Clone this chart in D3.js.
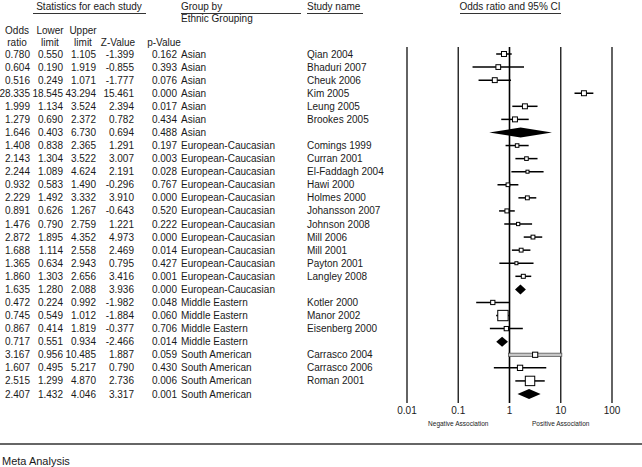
<!DOCTYPE html>
<html>
<head>
<meta charset="utf-8">
<script src="https://cdn.jsdelivr.net/npm/d3@7"></script>
<style>
  html, body { margin: 0; padding: 0; background: #fff; }
  svg { display: block; font-family: "Liberation Sans", Arial, sans-serif; }
</style>
</head>
<body>
<svg id="chart" width="642" height="467"></svg>
<script>
// ---------------- data ----------------
const studyNames = ["Qian 2004","Bhaduri 2007","Cheuk 2006","Kim 2005","Leung 2005","Brookes 2005","",
  "Comings 1999","Curran 2001","El-Faddagh 2004","Hawi 2000","Holmes 2000","Johansson 2007","Johnson 2008","Mill 2006","Mill 2001","Payton 2001","Langley 2008","",
  "Kotler 2000","Manor 2002","Eisenberg 2000","",
  "Carrasco 2004","Carrasco 2006","Roman 2001",""];
const groups = ["Asian","Asian","Asian","Asian","Asian","Asian","Asian",
  "European-Caucasian","European-Caucasian","European-Caucasian","European-Caucasian","European-Caucasian","European-Caucasian","European-Caucasian","European-Caucasian","European-Caucasian","European-Caucasian","European-Caucasian","European-Caucasian",
  "Middle Eastern","Middle Eastern","Middle Eastern","Middle Eastern",
  "South American","South American","South American","South American"];
const oddsRatio = [0.780,0.604,0.516,28.335,1.999,1.279,1.646,1.408,2.143,2.244,0.932,2.229,0.891,1.476,2.872,1.688,1.365,1.860,1.635,0.472,0.745,0.867,0.717,3.167,1.607,2.515,2.407];
const lowerLimit = [0.550,0.190,0.249,18.545,1.134,0.690,0.403,0.838,1.304,1.089,0.583,1.492,0.626,0.790,1.895,1.114,0.634,1.303,1.280,0.224,0.549,0.414,0.551,0.956,0.495,1.299,1.432];
const upperLimit = [1.105,1.919,1.071,43.294,3.524,2.372,6.730,2.365,3.522,4.624,1.490,3.332,1.267,2.759,4.352,2.558,2.943,2.656,2.088,0.992,1.012,1.819,0.934,10.485,5.217,4.870,4.046];
const zValue = [-1.399,-0.855,-1.777,15.461,2.394,0.782,0.694,1.291,3.007,2.191,-0.296,3.910,-0.643,1.221,4.973,2.469,0.795,3.416,3.936,-1.982,-1.884,-0.377,-2.466,1.887,0.790,2.736,3.317];
const pValue = [0.162,0.393,0.076,0.000,0.017,0.434,0.488,0.197,0.003,0.028,0.767,0.000,0.520,0.222,0.000,0.014,0.427,0.001,0.000,0.048,0.060,0.706,0.014,0.059,0.430,0.006,0.001];
const axisTicks = [0.01, 0.1, 1, 10, 100];
const axisTickLabels = ["0.01", "0.1", "1", "10", "100"];

// ---------------- build rows ----------------
const rows = studyNames.map((name, i) => ({
  name, group: groups[i], or: oddsRatio[i], lo: lowerLimit[i], hi: upperLimit[i],
  z: zValue[i], p: pValue[i], summary: name === "", idx: i
}));

// random-effects (DerSimonian-Laird) relative weights within each subgroup -> square size
d3.group(rows.filter(r => !r.summary), r => r.group).forEach(list => {
  list.forEach(r => {
    r.y = Math.log(r.or);
    const se = (Math.log(r.hi) - Math.log(r.lo)) / 3.92;
    r.v = se * se; r.w = 1 / r.v;
  });
  const sw = d3.sum(list, r => r.w);
  const mean = d3.sum(list, r => r.w * r.y) / sw;
  const Q = d3.sum(list, r => r.w * (r.y - mean) ** 2);
  const C = sw - d3.sum(list, r => r.w * r.w) / sw;
  const tau2 = Math.max(0, (Q - (list.length - 1)) / C);
  list.forEach(r => r.ws = 1 / (r.v + tau2));
  const sws = d3.sum(list, r => r.ws);
  list.forEach(r => r.pct = r.ws / sws);
});

// ---------------- layout ----------------
const svg = d3.select("#chart");
const textColor = "#1a1a1a";
const fs = 10;

const yScale = d3.scalePoint().domain(d3.range(rows.length)).range([54, 394]);
const xScale = d3.scaleLog().domain([0.01, 100]).range([407, 612]);

const fmt = v => v.toFixed(3);

// header
const hdr = svg.append("g").attr("fill", textColor).style("font-size", fs + "px");
hdr.append("text").attr("x", 89).attr("y", 10).attr("text-anchor", "middle").text("Statistics for each study");
hdr.append("text").attr("x", 181).attr("y", 10).text("Group by");
hdr.append("text").attr("x", 181).attr("y", 22).text("Ethnic Grouping");
hdr.append("text").attr("x", 307).attr("y", 10).text("Study name");
hdr.append("text").attr("x", 510).attr("y", 10).attr("text-anchor", "middle").text("Odds ratio and 95% CI");

const ul = svg.append("g").attr("stroke", "#333").attr("stroke-width", 1);
[[33, 146], [181, 301], [307, 363], [460, 561]].forEach(([a, b]) =>
  ul.append("line").attr("x1", a).attr("x2", b).attr("y1", 13.5).attr("y2", 13.5));

// column definitions (right edges)
const cols = [
  { key: "or", x: 30, h1: "Odds", h2: "ratio" },
  { key: "lo", x: 63, h1: "Lower", h2: "limit" },
  { key: "hi", x: 96, h1: "Upper", h2: "limit" },
  { key: "z", x: 134, h1: "", h2: "Z-Value" },
  { key: "p", x: 177, h1: "", h2: "p-Value" }
];
cols.forEach(c => {
  if (c.h1) hdr.append("text").attr("x", c.x - 13).attr("y", 34).attr("text-anchor", "middle").text(c.h1);
  hdr.append("text").attr("x", c.key === "z" ? c.x - 16 : c.x - 13)
    .attr("y", 46).attr("text-anchor", "middle").text(c.h2);
});

// table body
const body = svg.append("g").attr("fill", textColor).style("font-size", fs + "px");
rows.forEach((r, i) => {
  const y = yScale(i) + 3.5;
  cols.forEach(c => {
    body.append("text").attr("x", c.x).attr("y", y).attr("text-anchor", "end").text(fmt(r[c.key]));
  });
  body.append("text").attr("x", 181).attr("y", y).text(r.group);
  if (r.name) body.append("text").attr("x", 307).attr("y", y).text(r.name);
});

// forest plot vertical reference lines
const vl = svg.append("g");
axisTicks.forEach(t => {
  vl.append("line").attr("x1", xScale(t)).attr("x2", xScale(t))
    .attr("y1", 47).attr("y2", 403)
    .attr("stroke", t === 1 ? "#000" : "#222").attr("stroke-width", t === 1 ? 1.6 : 1.4);
});

// axis labels
const ax = svg.append("g").attr("fill", textColor).style("font-size", fs + "px");
axisTicks.forEach((t, i) => {
  ax.append("text").attr("x", xScale(t)).attr("y", 414).attr("text-anchor", "middle").text(axisTickLabels[i]);
});
ax.append("text").attr("x", xScale(0.1)).attr("y", 426).attr("text-anchor", "middle").style("font-size", "6.5px").text("Negative Association");
ax.append("text").attr("x", xScale(10)).attr("y", 426).attr("text-anchor", "middle").style("font-size", "6.5px").text("Positive Association");

// marks
const marks = svg.append("g");
const bandStudy = "Carrasco 2004";
rows.forEach((r, i) => {
  const y = yScale(i);
  if (r.summary) {
    const h = 5;
    const pts = [[xScale(r.lo), y], [xScale(r.or), y - h], [xScale(r.hi), y], [xScale(r.or), y + h]];
    marks.append("path").attr("d", "M" + pts.map(p => p.join(",")).join("L") + "Z").attr("fill", "#000");
  } else {
    if (r.name === bandStudy) {
      marks.append("rect").attr("x", xScale(r.lo)).attr("y", y - 1.6)
        .attr("width", xScale(r.hi) - xScale(r.lo)).attr("height", 3.2)
        .attr("fill", "#c8c8c8").attr("stroke", "#555").attr("stroke-width", 0.8);
    } else {
      marks.append("line").attr("x1", xScale(r.lo)).attr("x2", xScale(r.hi))
        .attr("y1", y).attr("y2", y).attr("stroke", "#000").attr("stroke-width", 1.5);
    }
    const s = Math.max(3, 12 * Math.sqrt(r.pct));
    marks.append("rect").attr("x", xScale(r.or) - s / 2).attr("y", y - s / 2)
      .attr("width", s).attr("height", s)
      .attr("fill", "#fff").attr("stroke", "#000").attr("stroke-width", 1);
  }
});

// footer
svg.append("line").attr("x1", 0).attr("x2", 642).attr("y1", 444).attr("y2", 444)
  .attr("stroke", "#333").attr("stroke-width", 1.5);
svg.append("text").attr("x", 2).attr("y", 465).attr("fill", textColor)
  .style("font-size", "11px").text("Meta Analysis");
</script>
</body>
</html>
